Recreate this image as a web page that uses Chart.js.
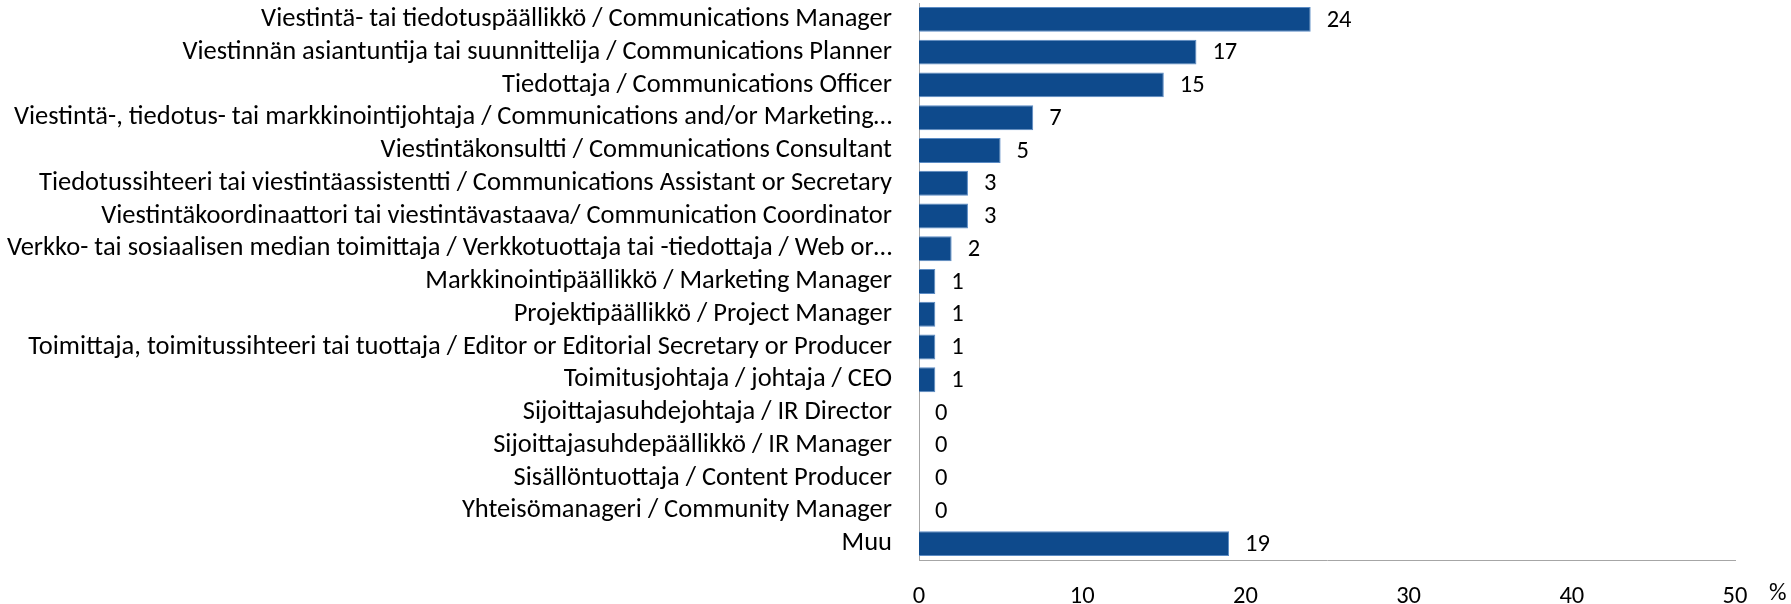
<!DOCTYPE html>
<html>
<head>
<meta charset="utf-8">
<script src="https://cdn.jsdelivr.net/npm/chart.js@4/dist/chart.umd.min.js"></script>
<style>
  html, body { margin: 0; padding: 0; background: #fff; }
  #wrap { width: 1791px; height: 604px; }
</style>
</head>
<body>
<div id="wrap"><canvas id="chart"></canvas></div>
<script>
const categories = [
  'Viestintä- tai tiedotuspäällikkö / Communications Manager',
  'Viestinnän asiantuntija tai suunnittelija / Communications Planner',
  'Tiedottaja / Communications Officer',
  'Viestintä-, tiedotus- tai markkinointijohtaja / Communications and/or Marketing…',
  'Viestintäkonsultti / Communications Consultant',
  'Tiedotussihteeri tai viestintäassistentti / Communications Assistant or Secretary',
  'Viestintäkoordinaattori tai viestintävastaava/ Communication Coordinator',
  'Verkko- tai sosiaalisen median toimittaja / Verkkotuottaja tai -tiedottaja / Web or…',
  'Markkinointipäällikkö / Marketing Manager',
  'Projektipäällikkö / Project Manager',
  'Toimittaja, toimitussihteeri tai tuottaja / Editor or Editorial Secretary or Producer',
  'Toimitusjohtaja / johtaja / CEO',
  'Sijoittajasuhdejohtaja / IR Director',
  'Sijoittajasuhdepäällikkö / IR Manager',
  'Sisällöntuottaja / Content Producer',
  'Yhteisömanageri / Community Manager',
  'Muu'
];
const percentages = [24, 17, 15, 7, 5, 3, 3, 2, 1, 1, 1, 1, 0, 0, 0, 0, 19];
const xTicks = [0, 10, 20, 30, 40, 50];
const unitLabel = '%';

const FONT = "Carlito, Lato, 'Liberation Sans', sans-serif";
const LABEL_SIZE = 26.5;
const NUM_SIZE = 24.5;

// value labels at bar ends, plus the % sign after the last x tick
const valueLabels = {
  id: 'valueLabels',
  afterDatasetsDraw(chart) {
    const ctx = chart.ctx;
    const meta = chart.getDatasetMeta(0);
    ctx.save();
    ctx.font = `${NUM_SIZE}px ${FONT}`;
    ctx.fillStyle = '#000';
    ctx.textAlign = 'left';
    ctx.textBaseline = 'middle';
    meta.data.forEach((bar, i) => {
      ctx.fillText(String(percentages[i]), bar.x + 16, bar.y + 1);
    });
    const xs = chart.scales.x;
    const lastX = xs.getPixelForValue(xTicks[xTicks.length - 1]);
    ctx.fillText(unitLabel, lastX + 34, xs.bottom - 10);
    ctx.restore();
  }
};

new Chart(document.getElementById('chart'), {
  type: 'bar',
  data: {
    labels: categories,
    datasets: [{
      data: percentages,
      backgroundColor: '#0E4A8C',
      borderColor: '#5B8BC4',
      borderWidth: 1,
      categoryPercentage: 1,
      barPercentage: 0.76
    }]
  },
  options: {
    indexAxis: 'y',
    responsive: true,
    maintainAspectRatio: false,
    animation: false,
    layout: { padding: { top: 3, right: 56, left: 0, bottom: 0 } },
    plugins: {
      legend: { display: false },
      tooltip: { enabled: false }
    },
    scales: {
      x: {
        min: 0,
        max: 50,
        afterBuildTicks(scale) {
          scale.ticks = xTicks.map(v => ({ value: v }));
        },
        afterFit(scale) { scale.height = 44; },
        grid: { display: false, drawTicks: false },
        border: { display: true, color: '#A6A6A6', width: 1 },
        ticks: {
          padding: 22,
          color: '#000',
          font: { family: FONT, size: NUM_SIZE }
        }
      },
      y: {
        afterFit(scale) {
          scale.width = 919;
          scale.paddingTop = 0;
          scale.paddingBottom = 0;
        },
        grid: { display: false, drawTicks: false },
        border: { display: true, color: '#A6A6A6', width: 1 },
        ticks: {
          padding: 27,
          color: '#000',
          autoSkip: false,
          font: { family: FONT, size: LABEL_SIZE }
        }
      }
    }
  },
  plugins: [valueLabels]
});
</script>
</body>
</html>
